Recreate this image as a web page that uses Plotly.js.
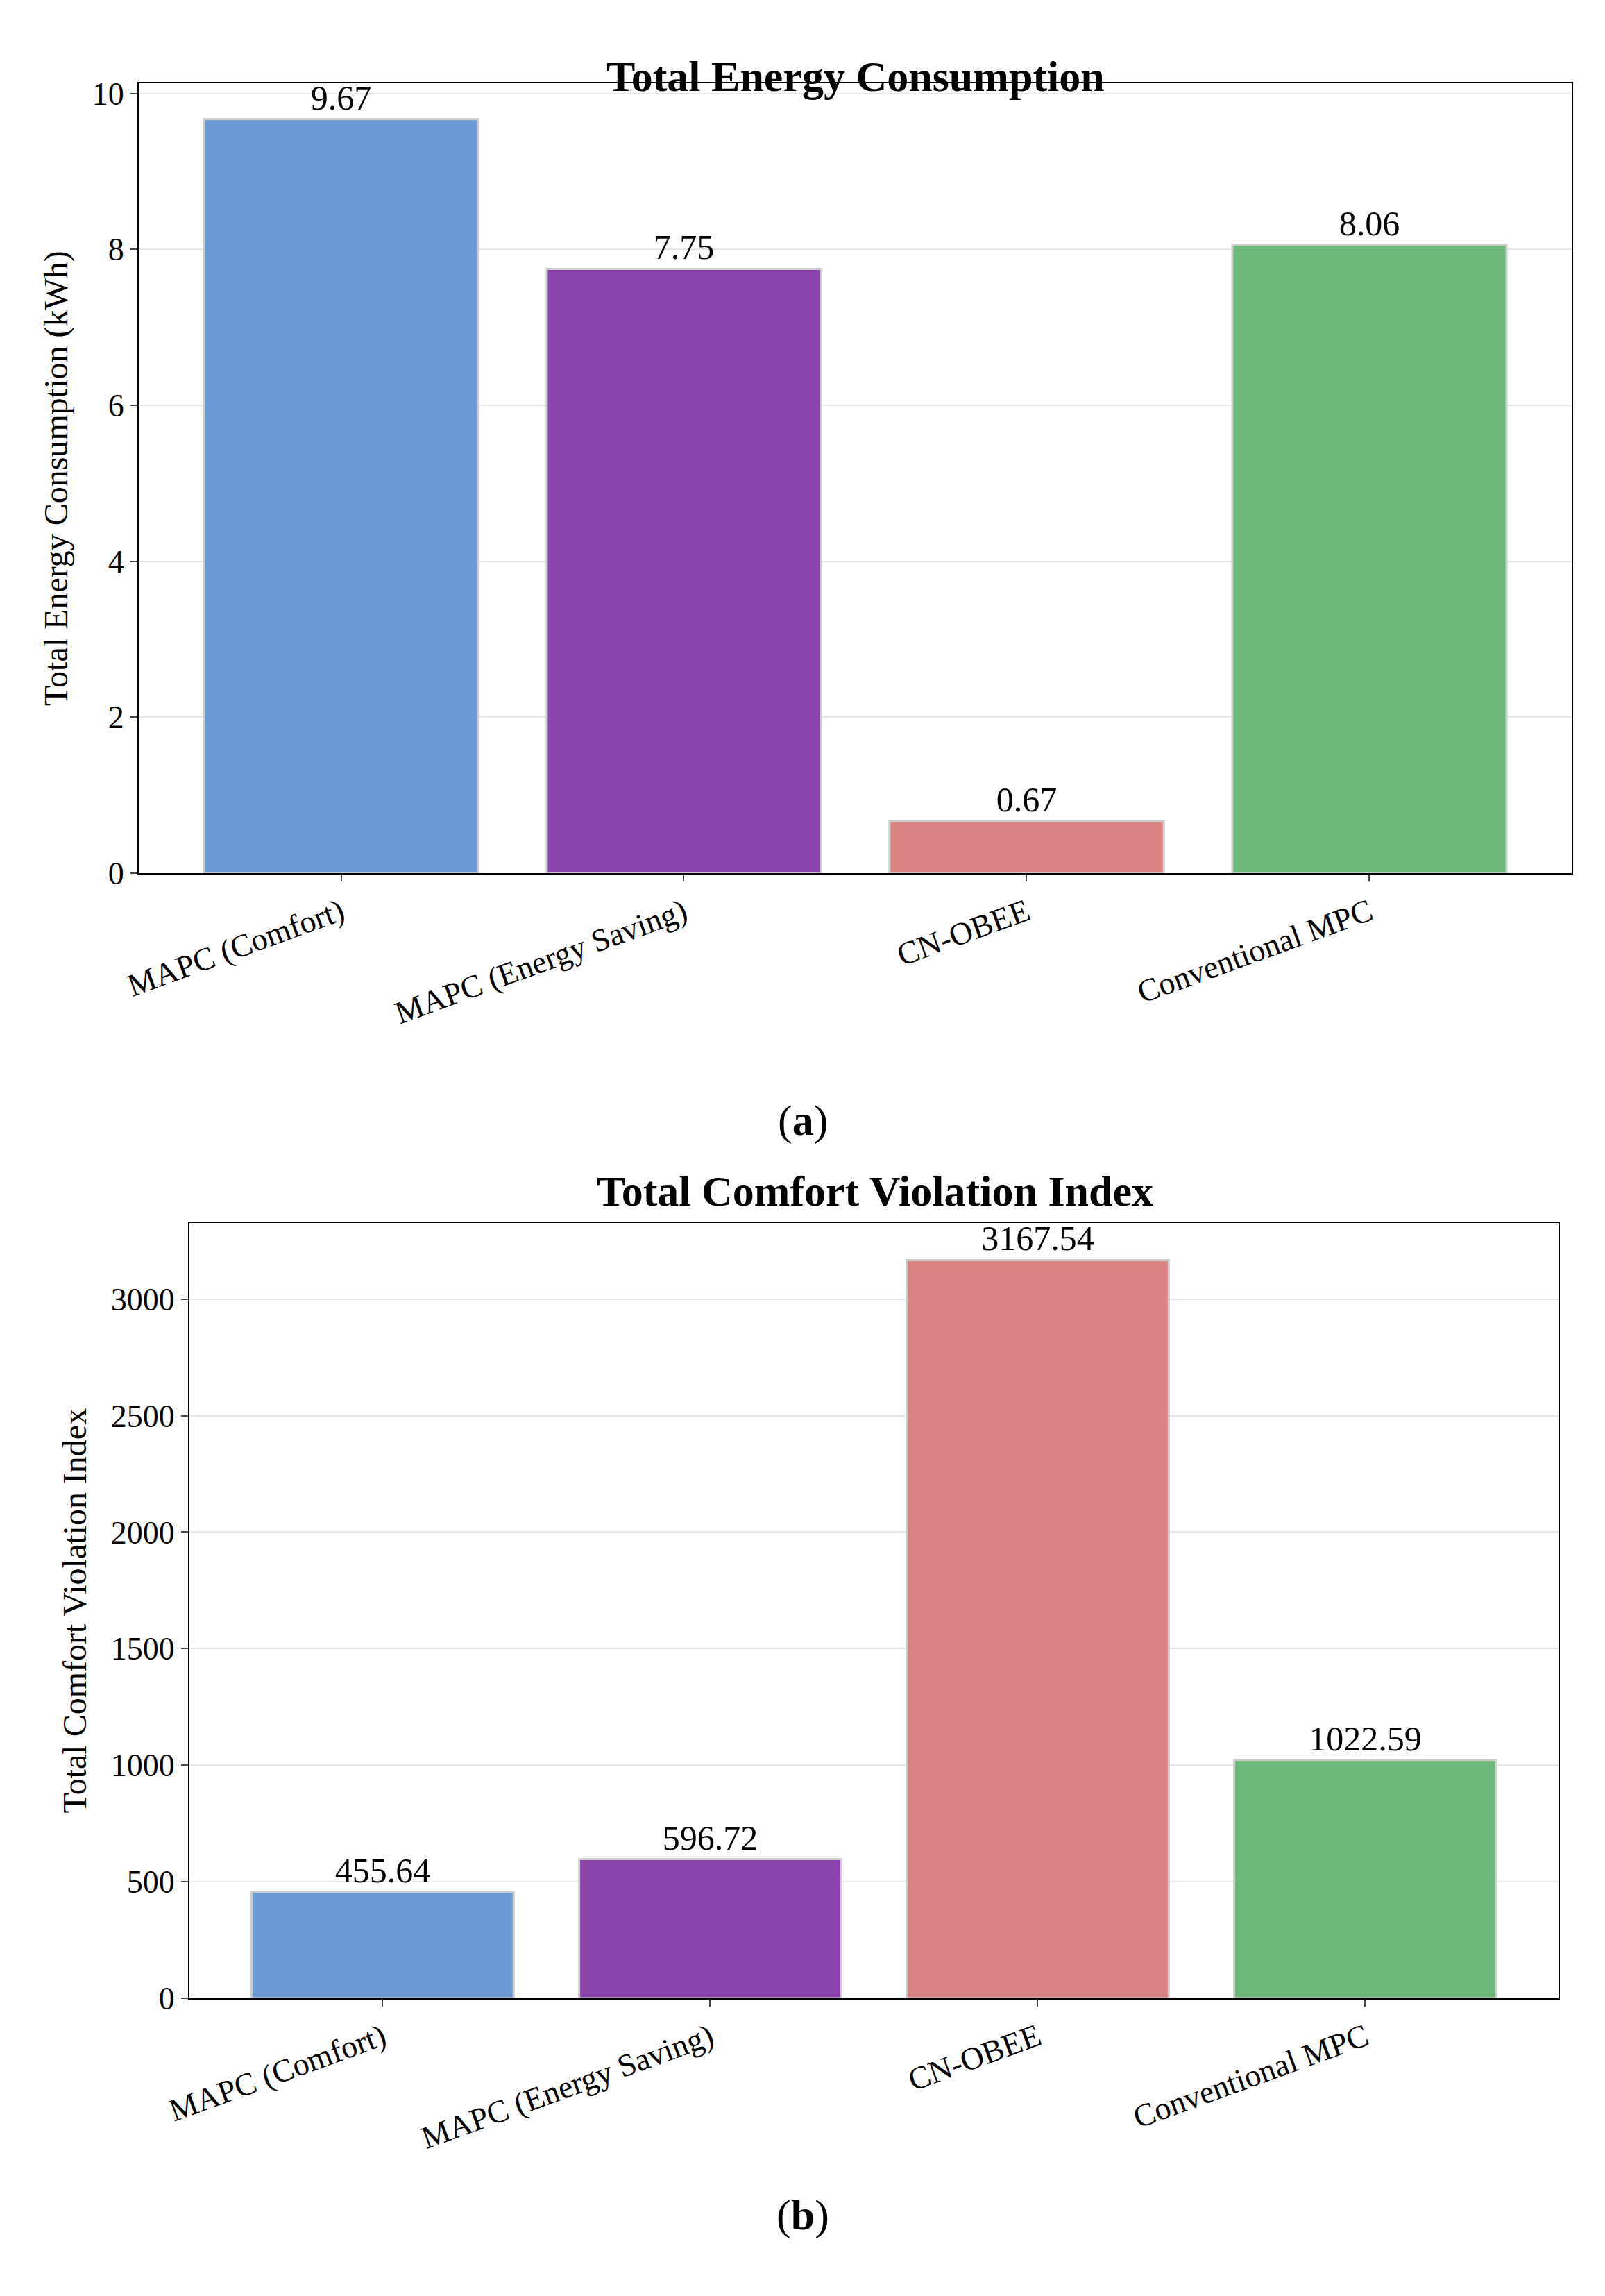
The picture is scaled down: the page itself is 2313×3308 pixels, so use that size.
<!DOCTYPE html>
<html><head><meta charset="utf-8">
<script src="https://cdn.plot.ly/plotly-3.0.1.min.js"></script>
<style>body{margin:0;background:#fff}</style>
</head><body><div id="chart" style="width:2313px;height:3308px"></div>
<script>
const categories = ['MAPC (Comfort)', 'MAPC (Energy Saving)', 'CN-OBEE', 'Conventional MPC'];
const energyKWh = [9.67, 7.75, 0.67, 8.06];
const comfortIndex = [455.64, 596.72, 3167.54, 1022.59];
const barColors = ['#6A9BD4', '#8A44AB', '#D98383', '#6DB87A'];

const FONT = 'Liberation Serif, Times New Roman, serif';

function barTrace(values, fmt, xa, ya) {
  return {
    type: 'bar', x: categories, y: values, xaxis: xa, yaxis: ya, width: 0.8,
    marker: { color: barColors, line: { color: '#cccccc', width: 3 } },
    text: values.map(v => v.toFixed(fmt)), textposition: 'outside', cliponaxis: false,
    textfont: { family: FONT, size: 50, color: '#000' }, hoverinfo: 'skip'
  };
}

function xAxis(domain, anchor) {
  return {
    domain, anchor, range: [-0.59, 3.59], tickangle: -20,
    tickfont: { family: FONT, size: 46, color: '#000' },
    ticks: 'outside', ticklen: 10, tickwidth: 2, showline: true, mirror: true,
    linecolor: '#000', linewidth: 2, showgrid: false
  };
}
function yAxis(domain, anchor, range, dtick, title) {
  return {
    domain, anchor, range, dtick,
    tickfont: { family: FONT, size: 46, color: '#000' },
    ticks: 'outside', ticklen: 10, tickwidth: 2, showline: true, mirror: true,
    linecolor: '#000', linewidth: 2, showgrid: true, gridcolor: '#e6e6e6', gridwidth: 2,
    zeroline: false,
    title: { text: title, font: { family: FONT, size: 48, color: '#000' }, standoff: 20 }
  };
}

const layout = {
  width: 2313, height: 3308, paper_bgcolor: '#fff', plot_bgcolor: '#fff',
  margin: { l: 0, r: 0, t: 0, b: 0 }, showlegend: false, bargap: 0.2,
  xaxis: xAxis([0.0865, 0.9792], 'y'),
  yaxis: yAxis([0.6197, 0.9637], 'x', [0, 10.13], 2, 'Total Energy Consumption (kWh)'),
  xaxis2: xAxis([0.118, 0.971], 'y2'),
  yaxis2: yAxis([0.1297, 0.4673], 'x2', [0, 3326], 500, 'Total Comfort Violation Index'),
  annotations: [
    { text: '<b>Total Energy Consumption</b>', x: 0.533, y: 1 - 74 / 3308, xref: 'paper', yref: 'paper',
      showarrow: false, font: { family: FONT, size: 62, color: '#000' } },
    { text: '<b>Total Comfort Violation Index</b>', x: 0.545, y: 1 - 1716 / 3308, xref: 'paper', yref: 'paper',
      showarrow: false, font: { family: FONT, size: 62, color: '#000' } },
    { text: '(<b>a</b>)', x: 0.5, y: 1 - 1615 / 3308, xref: 'paper', yref: 'paper',
      showarrow: false, font: { family: FONT, size: 62, color: '#000' } },
    { text: '(<b>b</b>)', x: 0.5, y: 1 - 3228 / 3308, xref: 'paper', yref: 'paper',
      showarrow: false, font: { family: FONT, size: 62, color: '#000' } }
  ]
};

Plotly.newPlot('chart', [barTrace(energyKWh, 2, 'x', 'y'), barTrace(comfortIndex, 2, 'x2', 'y2')],
  layout, { displayModeBar: false, staticPlot: true });
</script></body></html>
